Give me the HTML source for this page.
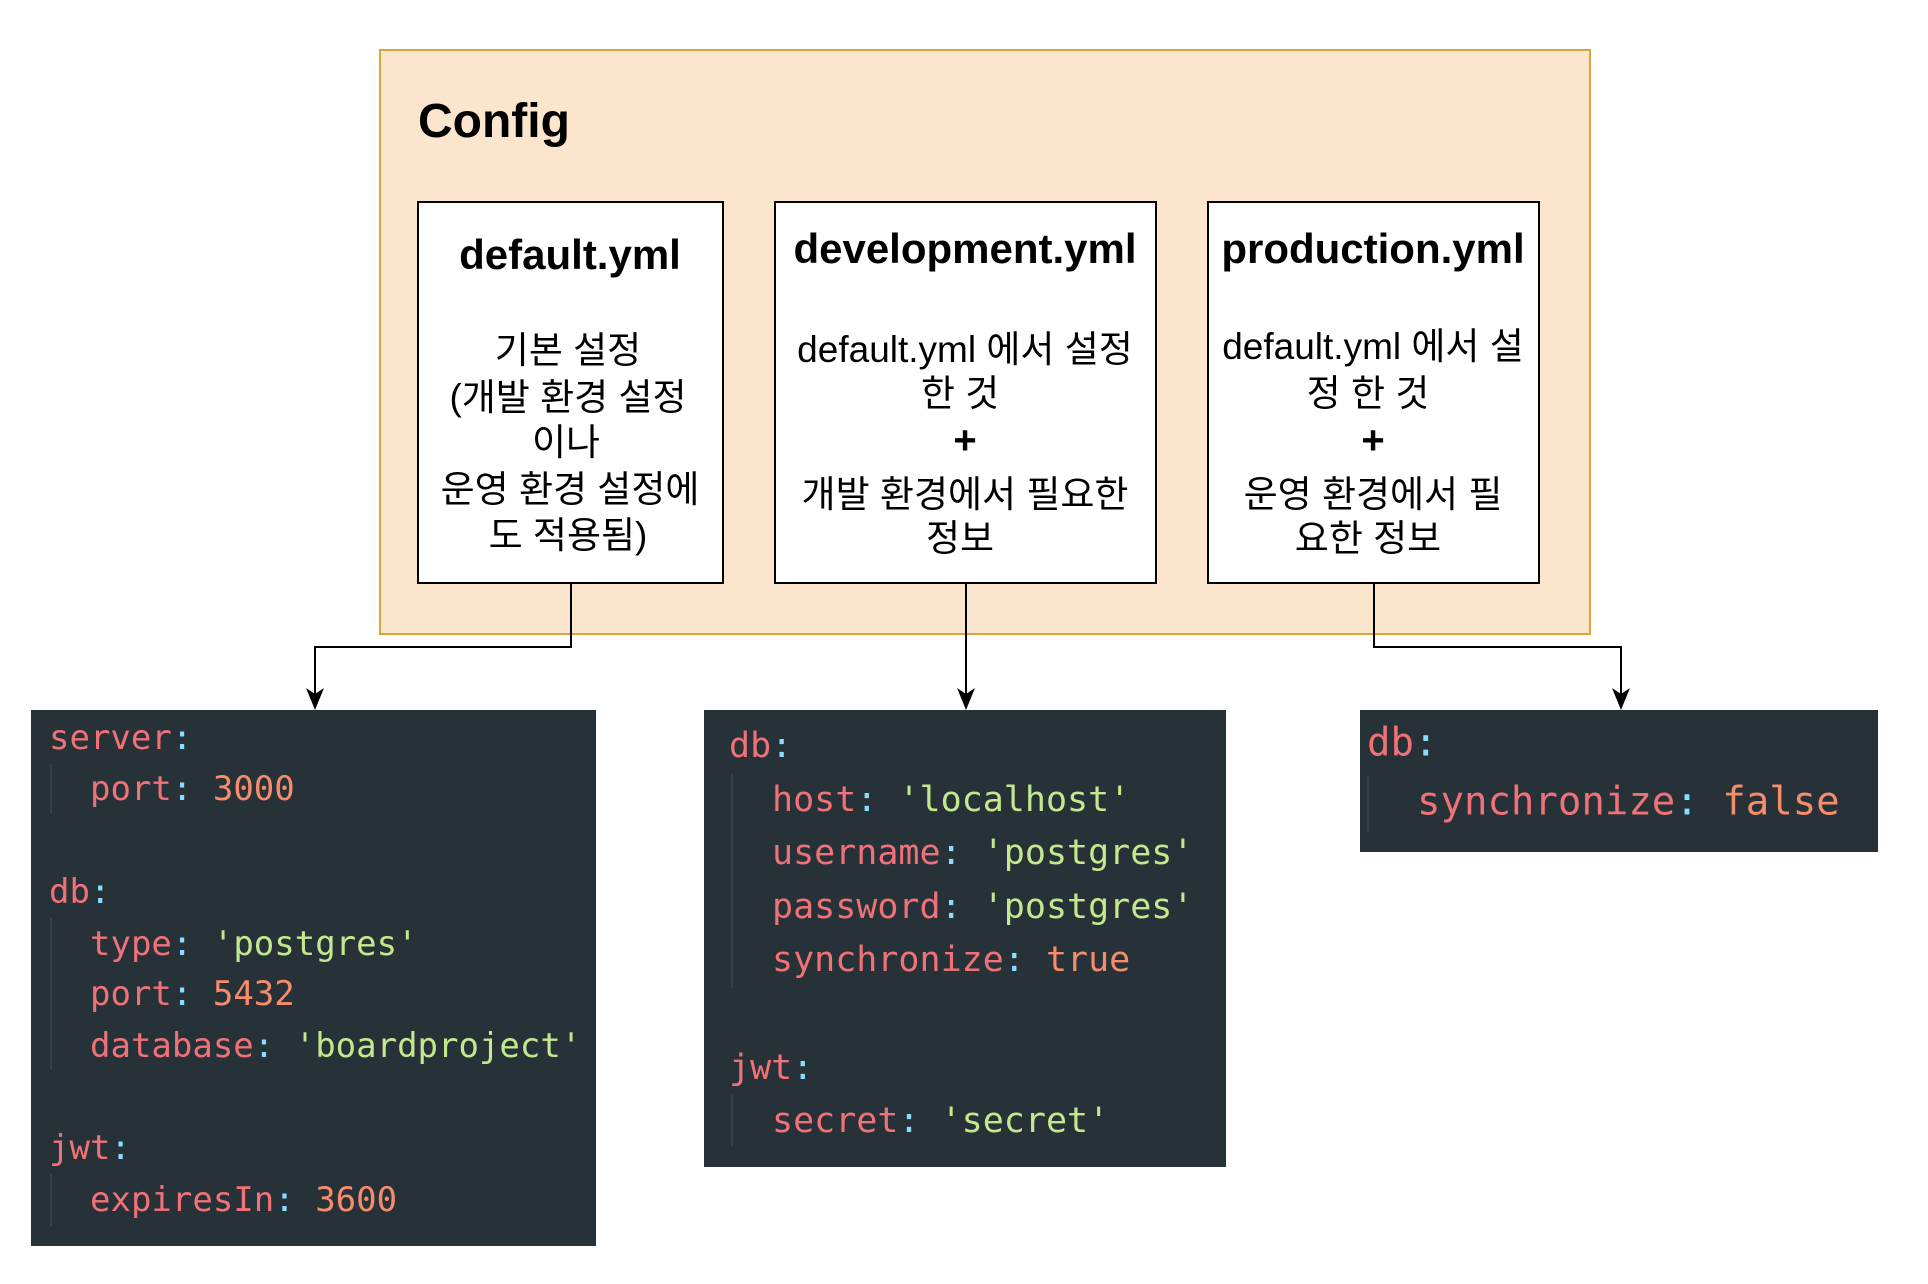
<!DOCTYPE html>
<html><head><meta charset="utf-8"><style>
body{margin:0;width:1928px;height:1284px;background:#fff;position:relative;overflow:hidden;font-family:"Liberation Sans","Noto Sans CJK KR",sans-serif;}
.a{position:absolute;}
.box{position:absolute;background:#fff;border:2px solid #000;box-sizing:border-box;}
.t{position:absolute;white-space:nowrap;text-align:center;transform:translate(-50%,-50%);color:#000;}
.ttl{font-weight:bold;font-size:42px;}
.bd{font-size:37px;}
.code{position:absolute;background:#263238;}
.cl{position:absolute;white-space:pre;font-family:"DejaVu Sans Mono","Liberation Mono",monospace;transform:translateY(-50%);}
.k{color:#f07178}.c{color:#89ddff}.s{color:#c3e88d}.n{color:#f78c6c}
.g{position:absolute;width:2px;background:#33424a;}
</style></head><body>
<div class="a" style="left:379px;top:49px;width:1212px;height:586px;background:#fbe6cd;border:2px solid #d6a63a;box-sizing:border-box;"></div>
<div class="a" style="left:418px;top:98px;font-size:48px;font-weight:bold;line-height:1;">Config</div>

<div class="box" style="left:417px;top:201px;width:307px;height:383px;"></div>
<div class="box" style="left:774px;top:201px;width:383px;height:383px;"></div>
<div class="box" style="left:1207px;top:201px;width:333px;height:383px;"></div>

<div class="t ttl" style="left:570px;top:255px;">default.yml</div>
<div class="t bd" style="left:568px;top:347px;">기본 설정</div>
<div class="t bd" style="left:568px;top:394px;">(개발 환경 설정</div>
<div class="t bd" style="left:566px;top:439px;">이나</div>
<div class="t bd" style="left:570px;top:486px;">운영 환경 설정에</div>
<div class="t bd" style="left:568px;top:532px;">도 적용됨)</div>

<div class="t ttl" style="left:965px;top:249px;">development.yml</div>
<div class="t bd" style="left:965px;top:346px;">default.yml 에서 설정</div>
<div class="t bd" style="left:960px;top:390px;">한 것</div>
<div class="t" style="left:965px;top:441px;font-size:40px;font-weight:bold;">+</div>
<div class="t bd" style="left:965px;top:491px;">개발 환경에서 필요한</div>
<div class="t bd" style="left:960px;top:535px;">정보</div>

<div class="t ttl" style="left:1373px;top:249px;">production.yml</div>
<div class="t bd" style="left:1373px;top:343px;">default.yml 에서 설</div>
<div class="t bd" style="left:1368px;top:390px;">정 한 것</div>
<div class="t" style="left:1373px;top:441px;font-size:40px;font-weight:bold;">+</div>
<div class="t bd" style="left:1373px;top:491px;">운영 환경에서 필</div>
<div class="t bd" style="left:1368px;top:535px;">요한 정보</div>

<svg class="a" style="left:0;top:0" width="1928" height="1284">
<g fill="none" stroke="#000" stroke-width="2">
<polyline points="571,584 571,647 315,647 315,700"/>
<polyline points="966,584 966,700"/>
<polyline points="1374,584 1374,647 1621,647 1621,700"/>
</g>
<g fill="#000">
<path d="M315,710 L306,688 L315,694 L324,688 Z"/>
<path d="M966,710 L957,688 L966,694 L975,688 Z"/>
<path d="M1621,710 L1612,688 L1621,694 L1630,688 Z"/>
</g>
</svg>

<div class="code" style="left:31px;top:710px;width:565px;height:536px;"></div>
<div class="g" style="left:50px;top:764px;height:50px"></div>
<div class="g" style="left:50px;top:918px;height:152px"></div>
<div class="g" style="left:50px;top:1174px;height:52px"></div>
<div class="cl" style="left:49px;top:738px;font-size:34px"><span class="k">server</span><span class="c">:</span></div>
<div class="cl" style="left:90px;top:789px;font-size:34px"><span class="k">port</span><span class="c">:</span> <span class="n">3000</span></div>
<div class="cl" style="left:49px;top:892px;font-size:34px"><span class="k">db</span><span class="c">:</span></div>
<div class="cl" style="left:90px;top:944px;font-size:34px"><span class="k">type</span><span class="c">:</span> <span class="s">'postgres'</span></div>
<div class="cl" style="left:90px;top:994px;font-size:34px"><span class="k">port</span><span class="c">:</span> <span class="n">5432</span></div>
<div class="cl" style="left:90px;top:1046px;font-size:34px"><span class="k">database</span><span class="c">:</span> <span class="s">'boardproject'</span></div>
<div class="cl" style="left:49px;top:1148px;font-size:34px"><span class="k">jwt</span><span class="c">:</span></div>
<div class="cl" style="left:90px;top:1200px;font-size:34px"><span class="k">expiresIn</span><span class="c">:</span> <span class="n">3600</span></div>

<div class="code" style="left:704px;top:710px;width:522px;height:457px;"></div>
<div class="g" style="left:731px;top:774px;height:214px"></div>
<div class="g" style="left:731px;top:1095px;height:52px"></div>
<div class="cl" style="left:729px;top:746px;font-size:35px"><span class="k">db</span><span class="c">:</span></div>
<div class="cl" style="left:772px;top:800px;font-size:35px"><span class="k">host</span><span class="c">:</span> <span class="s">'localhost'</span></div>
<div class="cl" style="left:772px;top:853px;font-size:35px"><span class="k">username</span><span class="c">:</span> <span class="s">'postgres'</span></div>
<div class="cl" style="left:772px;top:907px;font-size:35px"><span class="k">password</span><span class="c">:</span> <span class="s">'postgres'</span></div>
<div class="cl" style="left:772px;top:960px;font-size:35px"><span class="k">synchronize</span><span class="c">:</span> <span class="n">true</span></div>
<div class="cl" style="left:729px;top:1068px;font-size:35px"><span class="k">jwt</span><span class="c">:</span></div>
<div class="cl" style="left:772px;top:1121px;font-size:35px"><span class="k">secret</span><span class="c">:</span> <span class="s">'secret'</span></div>

<div class="code" style="left:1360px;top:710px;width:518px;height:142px;"></div>
<div class="g" style="left:1367px;top:775px;height:58px"></div>
<div class="cl" style="left:1367px;top:743px;font-size:39px"><span class="k">db</span><span class="c">:</span></div>
<div class="cl" style="left:1417px;top:802px;font-size:39px"><span class="k">synchronize</span><span class="c">:</span> <span class="n">false</span></div>
</body></html>
